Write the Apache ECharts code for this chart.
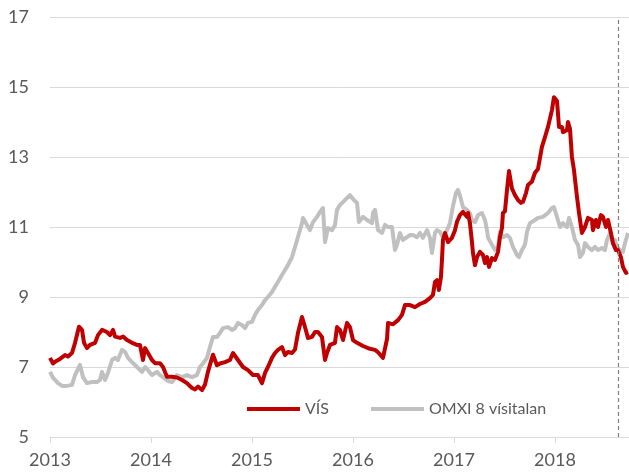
<!DOCTYPE html>
<html>
<head>
<meta charset="utf-8">
<script src="https://cdn.jsdelivr.net/npm/echarts@6/dist/echarts.min.js"></script>
<style>
html,body{margin:0;padding:0;background:#fff;}
#c{width:629px;height:472px;}
</style>
</head>
<body>
<div id="c"></div>
<script>
// Decimal years and values
const visDates = [2013.000,2013.030,2013.050,2013.099,2013.149,2013.178,2013.218,2013.248,2013.287,2013.317,2013.337,2013.366,2013.396,2013.446,2013.475,2013.515,2013.564,2013.594,2013.624,2013.644,2013.693,2013.723,2013.762,2013.812,2013.861,2013.891,2013.921,2013.941,2013.970,2014.010,2014.040,2014.089,2014.119,2014.158,2014.208,2014.257,2014.307,2014.356,2014.406,2014.436,2014.465,2014.505,2014.535,2014.564,2014.604,2014.614,2014.653,2014.683,2014.733,2014.782,2014.812,2014.861,2014.911,2014.960,2015.010,2015.059,2015.099,2015.129,2015.158,2015.198,2015.228,2015.257,2015.297,2015.327,2015.356,2015.396,2015.426,2015.455,2015.495,2015.525,2015.554,2015.594,2015.624,2015.653,2015.693,2015.723,2015.743,2015.772,2015.822,2015.842,2015.871,2015.901,2015.941,2015.970,2016.000,2016.040,2016.099,2016.168,2016.218,2016.248,2016.297,2016.337,2016.347,2016.396,2016.446,2016.485,2016.515,2016.564,2016.614,2016.663,2016.713,2016.762,2016.792,2016.812,2016.832,2016.851,2016.871,2016.881,2016.891,2016.911,2016.941,2016.980,2017.010,2017.030,2017.059,2017.089,2017.129,2017.139,2017.158,2017.178,2017.188,2017.208,2017.228,2017.257,2017.287,2017.307,2017.327,2017.347,2017.376,2017.406,2017.436,2017.455,2017.475,2017.485,2017.505,2017.525,2017.545,2017.574,2017.604,2017.634,2017.663,2017.683,2017.713,2017.733,2017.772,2017.802,2017.832,2017.871,2017.901,2017.931,2017.970,2017.990,2018.020,2018.040,2018.069,2018.079,2018.119,2018.129,2018.149,2018.168,2018.188,2018.218,2018.238,2018.267,2018.297,2018.327,2018.366,2018.376,2018.406,2018.426,2018.455,2018.475,2018.505,2018.525,2018.554,2018.574,2018.604,2018.624,2018.653,2018.673,2018.703,2018.723];
const visValues = [7.26,7.10,7.15,7.23,7.34,7.30,7.40,7.69,8.15,8.06,7.69,7.54,7.63,7.69,7.91,8.06,8.00,7.91,8.06,7.87,7.83,7.87,7.77,7.69,7.63,7.63,7.20,7.54,7.40,7.20,7.11,7.11,7.00,6.72,6.72,6.70,6.63,6.54,6.40,6.36,6.44,6.34,6.50,6.86,7.26,7.35,7.05,7.10,7.14,7.20,7.40,7.20,7.00,6.91,6.77,6.77,6.54,6.83,7.00,7.26,7.40,7.49,7.57,7.34,7.43,7.40,7.50,7.97,8.43,8.14,7.83,7.86,8.00,8.00,7.86,7.20,7.40,7.63,7.69,8.14,8.06,7.77,8.26,8.14,7.77,7.69,7.60,7.52,7.49,7.42,7.26,7.80,8.26,8.22,8.34,8.49,8.77,8.77,8.71,8.80,8.86,8.97,9.06,9.43,9.48,9.20,9.57,10.06,10.63,10.83,10.57,10.69,10.91,11.15,11.34,11.43,11.29,11.40,11.11,10.57,10.26,9.91,10.14,10.29,10.20,9.97,10.14,9.86,10.11,10.06,10.29,10.71,10.97,11.40,11.45,12.06,12.60,12.10,11.91,11.77,11.69,11.72,11.97,12.20,12.30,12.55,12.66,13.29,13.57,13.86,14.34,14.71,14.60,13.86,13.86,13.71,13.77,14.00,13.80,13.00,12.63,11.86,11.40,10.83,11.00,11.26,11.20,10.91,11.20,11.00,11.34,11.29,11.00,11.20,10.83,10.54,10.34,10.34,10.14,9.86,9.69,9.71];

const omxDates = [2013.000,2013.030,2013.079,2013.119,2013.168,2013.218,2013.248,2013.297,2013.327,2013.366,2013.416,2013.465,2013.495,2013.515,2013.545,2013.574,2013.614,2013.644,2013.673,2013.713,2013.743,2013.772,2013.812,2013.861,2013.911,2013.941,2013.970,2014.010,2014.059,2014.089,2014.119,2014.168,2014.208,2014.257,2014.307,2014.356,2014.406,2014.455,2014.485,2014.515,2014.554,2014.584,2014.614,2014.653,2014.683,2014.713,2014.762,2014.802,2014.832,2014.861,2014.901,2014.931,2014.960,2015.000,2015.030,2015.059,2015.099,2015.129,2015.158,2015.198,2015.228,2015.257,2015.297,2015.327,2015.356,2015.396,2015.426,2015.455,2015.495,2015.505,2015.545,2015.574,2015.604,2015.644,2015.673,2015.703,2015.723,2015.752,2015.792,2015.822,2015.842,2015.871,2015.901,2015.941,2015.970,2016.000,2016.040,2016.059,2016.069,2016.099,2016.139,2016.188,2016.198,2016.218,2016.238,2016.248,2016.287,2016.317,2016.347,2016.386,2016.416,2016.436,2016.465,2016.495,2016.535,2016.564,2016.594,2016.634,2016.663,2016.693,2016.733,2016.762,2016.782,2016.812,2016.832,2016.861,2016.891,2016.931,2016.960,2016.990,2017.020,2017.040,2017.059,2017.089,2017.129,2017.158,2017.178,2017.208,2017.238,2017.277,2017.307,2017.327,2017.337,2017.376,2017.406,2017.436,2017.455,2017.485,2017.525,2017.554,2017.584,2017.624,2017.644,2017.673,2017.703,2017.723,2017.752,2017.802,2017.832,2017.881,2017.931,2017.970,2017.990,2018.020,2018.050,2018.079,2018.119,2018.139,2018.168,2018.198,2018.228,2018.248,2018.277,2018.297,2018.327,2018.366,2018.396,2018.426,2018.465,2018.495,2018.515,2018.545,2018.574,2018.594,2018.614,2018.644,2018.673,2018.693,2018.723];
const omxValues = [6.86,6.69,6.54,6.46,6.46,6.49,6.77,7.06,6.71,6.54,6.57,6.57,6.63,6.86,6.63,6.83,7.20,7.26,7.20,7.49,7.43,7.26,7.14,7.00,6.86,7.00,6.91,6.77,6.86,6.77,6.71,6.60,6.57,6.77,6.71,6.77,6.71,6.77,7.00,7.10,7.26,7.57,7.86,7.86,7.97,8.11,8.14,8.06,8.11,8.26,8.20,8.11,8.26,8.29,8.49,8.63,8.77,8.91,9.00,9.14,9.29,9.43,9.63,9.77,9.91,10.14,10.43,10.71,11.11,11.26,11.06,10.91,11.14,11.29,11.43,11.54,10.57,10.97,10.91,11.06,11.49,11.63,11.71,11.83,11.91,11.80,11.69,11.14,11.11,11.29,11.20,11.11,11.40,11.49,11.11,10.91,10.83,11.06,11.00,11.00,10.34,10.49,10.83,10.63,10.71,10.77,10.77,10.71,10.83,10.69,10.91,10.69,10.26,10.83,10.91,10.86,10.71,10.91,11.11,11.60,11.97,12.06,11.90,11.57,11.49,11.40,11.20,11.14,11.34,11.40,11.20,10.91,10.70,10.49,10.34,10.43,10.86,10.71,10.77,10.69,10.43,10.20,10.14,10.34,10.49,10.86,11.11,11.20,11.26,11.29,11.40,11.54,11.57,11.29,11.00,11.11,11.00,11.26,11.00,10.63,10.49,10.14,10.26,10.54,10.43,10.34,10.43,10.34,10.40,10.34,10.63,10.83,10.54,10.63,10.43,10.34,10.29,10.54,10.83];

const yearTicks = [2013, 2014, 2015, 2016, 2017, 2018];
const xMin = 2013, xMax = 2018.733;
const markerDate = 2018.634;
const seriesNames = ['VÍS', 'OMXI 8 vísitalan'];

const pairs = (xs, ys) => xs.map((x, i) => [x, ys[i]]);

const chart = echarts.init(document.getElementById('c'), null, {renderer: 'canvas'});
const font = 'Lato, "Open Sans", sans-serif';
chart.setOption({
  animation: false,
  backgroundColor: '#ffffff',
  grid: {left: 50, right: 0, top: 17, bottom: 35, containLabel: false},
  legend: {
    left: 242, top: 396,
    icon: 'rect', itemWidth: 53, itemHeight: 4, itemGap: 42,
    textStyle: {fontFamily: font, fontSize: 16, color: '#595959'},
    data: seriesNames
  },
  xAxis: {
    type: 'value', min: xMin, max: xMax,
    axisLine: {show: true, lineStyle: {color: '#d9d9d9', width: 1}},
    axisTick: {show: true, length: 6, lineStyle: {color: '#d9d9d9'}, customValues: yearTicks},
    axisLabel: {customValues: yearTicks, formatter: v => String(Math.round(v)), fontFamily: font, fontSize: 18, color: '#595959', margin: 14},
    splitLine: {show: false}
  },
  yAxis: {
    type: 'value', min: 5, max: 17, interval: 2,
    axisLine: {show: false}, axisTick: {show: false},
    axisLabel: {fontFamily: font, fontSize: 18, color: '#595959', margin: 21},
    splitLine: {lineStyle: {color: '#d9d9d9', width: 1}}
  },
  series: [
    {
      name: seriesNames[1], type: 'line', data: pairs(omxDates, omxValues),
      showSymbol: false, symbol: 'none', z: 2,
      lineStyle: {color: '#c0c0c0', width: 4, join: 'round'}, itemStyle: {color: '#c0c0c0'},
      markLine: {
        silent: true, symbol: 'none', label: {show: false},
        lineStyle: {color: '#7f7f7f', type: [4, 3], width: 1.2},
        data: [{xAxis: markerDate}]
      }
    },
    {
      name: seriesNames[0], type: 'line', data: pairs(visDates, visValues),
      showSymbol: false, symbol: 'none', z: 3,
      lineStyle: {color: '#c00000', width: 4, join: 'round'}, itemStyle: {color: '#c00000'}
    }
  ]
});
</script>
</body>
</html>
